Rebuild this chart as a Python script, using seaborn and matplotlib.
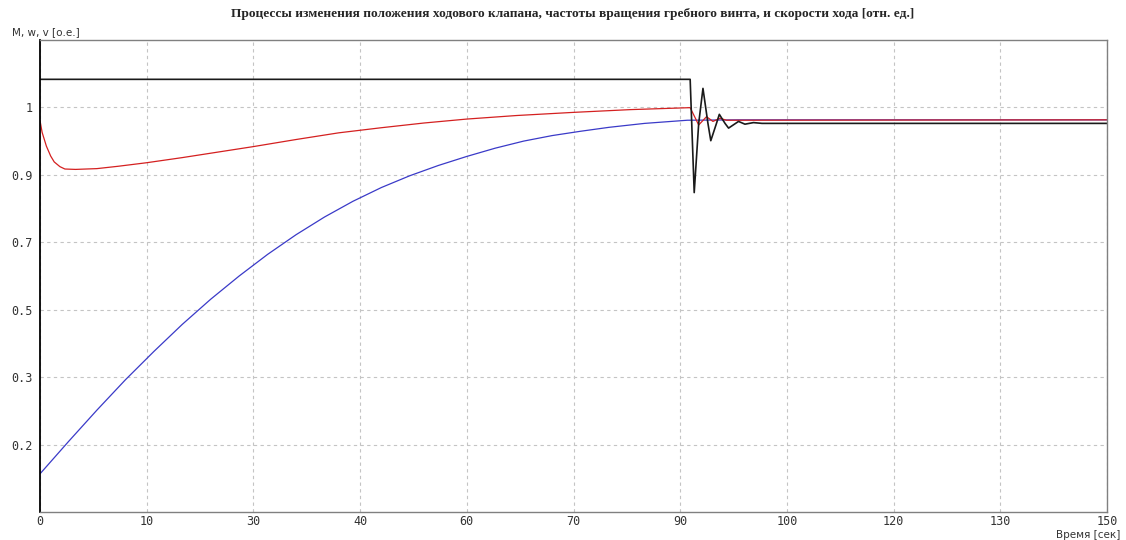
import matplotlib
matplotlib.use("Agg")
import matplotlib.pyplot as plt
import seaborn as sns
import pandas as pd

# --- series data (time in seconds, values in relative units) ---
# w: propeller shaft speed
t_w = [0.0, 0.3, 0.9, 1.5, 2.0, 2.8, 3.5, 5.0, 8.0, 11.0, 15.0, 20.0, 25.0,
       30.0, 36.0, 42.0, 48.0, 54.0, 60.0, 67.0, 75.0, 83.0, 91.4, 92.6,
       93.7, 94.6, 95.6, 96.5, 150.0]
w = [0.995, 0.965, 0.930, 0.905, 0.890, 0.878, 0.872, 0.871, 0.873, 0.879,
     0.888, 0.901, 0.915, 0.929, 0.947, 0.964, 0.977, 0.989, 0.999, 1.008,
     1.016, 1.023, 1.028, 0.984, 1.005, 0.993, 1.001, 0.996, 0.997]

# v: ship speed
t_v = [0.0, 4.0, 8.0, 12.0, 16.0, 20.0, 24.0, 28.0, 32.0, 36.0, 40.0, 44.0,
       48.0, 52.0, 56.0, 60.0, 64.0, 68.0, 72.0, 76.0, 80.0, 85.0, 91.0,
       98.0, 150.0]
v = [0.097, 0.179, 0.259, 0.336, 0.408, 0.477, 0.541, 0.600, 0.655, 0.705,
     0.750, 0.790, 0.825, 0.855, 0.881, 0.904, 0.925, 0.943, 0.957, 0.968,
     0.978, 0.988, 0.996, 0.997, 0.997]

# M: throttle valve position
t_m = [0.0, 91.4, 91.97, 92.6, 93.2, 93.9, 94.3, 95.1, 95.5, 96.3, 96.8,
       98.2, 99.1, 100.3, 101.5, 150.0]
m = [1.100, 1.100, 0.812, 0.988, 1.077, 0.988, 0.944, 0.988, 1.011, 0.988,
     0.976, 0.993, 0.986, 0.990, 0.988, 0.988]

x_ticks = [0, 15, 30, 45, 60, 75, 90, 105, 120, 135, 150]
x_tick_labels = ["0", "10", "30", "40", "60", "70", "90", "100", "120", "130", "150"]
y_ticks = [1.2 / 7 * k for k in range(1, 7)]
y_tick_labels = ["0.2", "0.3", "0.5", "0.7", "0.9", "1"]

title = ("Процессы изменения положения ходового клапана, частоты вращения "
         "гребного винта, и скорости хода [отн. ед.]")
y_label = "M, w, v [о.е.]"
x_label = "Время [сек]"

df_w = pd.DataFrame({"t": t_w, "val": w})
df_v = pd.DataFrame({"t": t_v, "val": v})
df_m = pd.DataFrame({"t": t_m, "val": m})

sns.set_theme(style="white")
plt.rcParams["font.family"] = ["DejaVu Sans"]

fig = plt.figure(figsize=(11.26, 5.40), dpi=100)
ax = fig.add_axes([40 / 1126, 28 / 540, 1067 / 1126, 472 / 540])

sns.lineplot(data=df_v, x="t", y="val", ax=ax, color="#3a3ac8", linewidth=0.9,
             estimator=None, sort=False)
sns.lineplot(data=df_w, x="t", y="val", ax=ax, color="#d42020", linewidth=0.9,
             estimator=None, sort=False)
sns.lineplot(data=df_m, x="t", y="val", ax=ax, color="#1a1a1a", linewidth=1.2,
             estimator=None, sort=False)

ax.set_xlim(0, 150)
ax.set_ylim(0, 1.2)
ax.set_xticks(x_ticks)
ax.set_xticklabels(x_tick_labels)
ax.set_yticks(y_ticks)
ax.set_yticklabels(y_tick_labels)
ax.set_xlabel("")
ax.set_ylabel("")

ax.grid(True, linestyle=(0, (3, 3)), color="#c4c4c4", linewidth=0.8)
ax.set_axisbelow(True)
ax.tick_params(axis="both", length=0, labelsize=8.5, colors="#333333")
ax.tick_params(axis="x", pad=2)
ax.tick_params(axis="y", pad=5)
for lab in ax.get_xticklabels() + ax.get_yticklabels():
    lab.set_family("DejaVu Sans Mono")

for side in ["top", "bottom", "right"]:
    ax.spines[side].set_color("#808080")
    ax.spines[side].set_linewidth(1.0)
ax.spines["left"].set_color("#000000")
ax.spines["left"].set_linewidth(1.3)

fig.text(573 / 1126, 1 - 14 / 540, title, ha="center", va="center",
         fontsize=9.6, fontweight="bold", family="Liberation Serif")
fig.text(12 / 1126, 1 - 32 / 540, y_label, ha="left", va="center",
         fontsize=7.5, color="#333333")
fig.text(1120 / 1126, 1 - 535 / 540, x_label, ha="right", va="center",
         fontsize=7.5, color="#333333")

fig.savefig("out.png", dpi=100)
